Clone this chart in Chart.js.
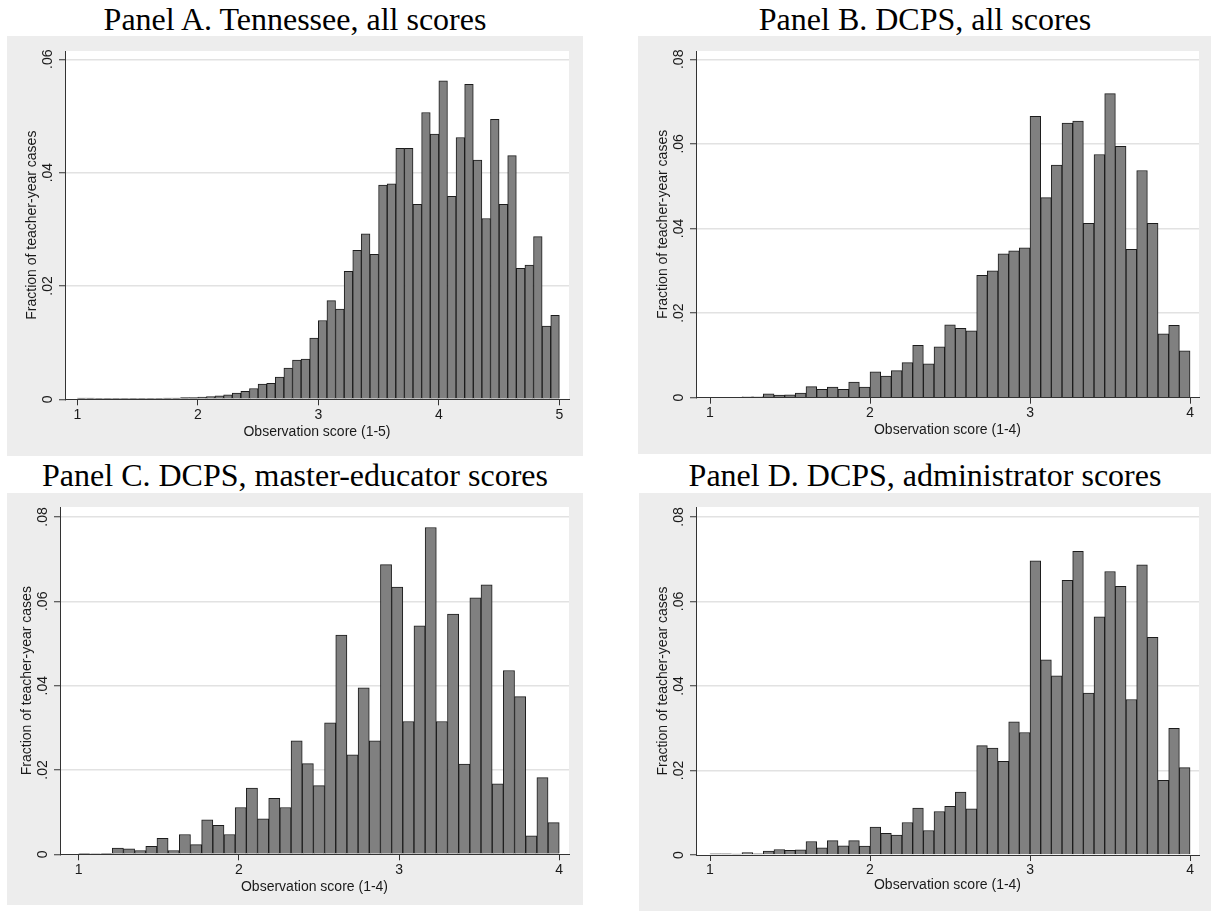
<!DOCTYPE html>
<html>
<head>
<meta charset="utf-8">
<script src="https://cdn.jsdelivr.net/npm/chart.js@4.4.1/dist/chart.umd.min.js"></script>
<style>
  body { margin: 0; background: #fff; width: 1211px; height: 911px; position: relative; overflow: hidden; }
  .ttl { position: absolute; font-family: "Liberation Serif", "Times New Roman", serif; font-size: 32px;
         line-height: 32px; color: #000; white-space: nowrap; transform: translateX(-50%); }
  canvas { position: absolute; background: #ededed; }
</style>
</head>
<body>
<div class="ttl" style="left:295px; top:3px;">Panel A. Tennessee, all scores</div>
<div class="ttl" style="left:925px; top:3px;">Panel B. DCPS, all scores</div>
<div class="ttl" style="left:295px; top:459px;">Panel C. DCPS, master-educator scores</div>
<div class="ttl" style="left:925px; top:459px;">Panel D. DCPS, administrator scores</div>

<canvas id="chartA" width="576" height="420" style="left:7px; top:36px;"></canvas>
<canvas id="chartB" width="573" height="418" style="left:638px; top:36px;"></canvas>
<canvas id="chartC" width="576" height="412" style="left:7px; top:493px;"></canvas>
<canvas id="chartD" width="572" height="418" style="left:639px; top:493px;"></canvas>

<script>
// histogram bins: first edge and bin width, per panel
const binStartA = 1, binWidthA = 4 / 56;
const binStartB = 1, binWidthB = 1 / 15;
const binStartC = 1, binWidthC = 3 / 43;
const binStartD = 1, binWidthD = 1 / 15;

// fraction of teacher-year cases in each bin
const fracA = [0.0002, 0.0002, 0.0001, 0.0001, 0.0001, 0.0001, 0.0001, 0.0001, 0.0001, 0.0001, 0.0002, 0.0002, 0.0003, 0.0003,
  0.0004, 0.0005, 0.0006, 0.0008, 0.0011, 0.0014, 0.0019, 0.0027, 0.0028, 0.0039,
  0.0055, 0.0069, 0.0071, 0.0108, 0.0139, 0.0174, 0.0159, 0.0226, 0.0263, 0.0292,
  0.0256, 0.0378, 0.0380, 0.0443, 0.0443, 0.0344, 0.0506, 0.0468, 0.0562, 0.0358,
  0.0462, 0.0556, 0.0422, 0.0319, 0.0494, 0.0344, 0.0430, 0.0231, 0.0237, 0.0287,
  0.0129, 0.0148];
const fracB = [0.0001, 0.0001, 0.0001, 0.0002, 0.0002, 0.0009, 0.0006, 0.0007, 0.0011, 0.0026, 0.0020, 0.0025, 0.0020, 0.0037, 0.0025,
  0.0061, 0.0051, 0.0064, 0.0083, 0.0124, 0.0080, 0.0120, 0.0172, 0.0164, 0.0158, 0.0289, 0.0300, 0.0340, 0.0347, 0.0354,
  0.0665, 0.0473, 0.0550, 0.0649, 0.0654, 0.0412, 0.0575, 0.0719, 0.0594, 0.0351, 0.0537, 0.0412, 0.0151, 0.0171, 0.0111];
const fracC = [0.0001, 0.0002, 0.0001, 0.0015, 0.0013, 0.0009, 0.0019, 0.0038, 0.0009, 0.0047, 0.0023, 0.0082, 0.0069, 0.0047,
  0.0111, 0.0157, 0.0084, 0.0133, 0.0111, 0.0269, 0.0215, 0.0163, 0.0312, 0.0520, 0.0236, 0.0395, 0.0269, 0.0687,
  0.0634, 0.0315, 0.0542, 0.0775, 0.0315, 0.0570, 0.0214, 0.0608, 0.0639, 0.0167, 0.0436, 0.0374, 0.0044, 0.0182, 0.0075];
const fracD = [0.0003, 0.0003, 0.0002, 0.0006, 0.0003, 0.0009, 0.0013, 0.0011, 0.0012, 0.0032, 0.0017, 0.0034, 0.0022, 0.0034, 0.0021,
  0.0066, 0.0051, 0.0047, 0.0077, 0.0111, 0.0058, 0.0103, 0.0115, 0.0149, 0.0109, 0.0259, 0.0253, 0.0222, 0.0315, 0.0290,
  0.0696, 0.0462, 0.0424, 0.0650, 0.0719, 0.0383, 0.0564, 0.0671, 0.0636, 0.0368, 0.0687, 0.0515, 0.0177, 0.0300, 0.0207];

// tick values and labels
const xTicks5 = [1, 2, 3, 4, 5];
const xLabels5 = ['1', '2', '3', '4', '5'];
const xTicks4 = [1, 2, 3, 4];
const xLabels4 = ['1', '2', '3', '4'];
const yTicks06 = [0, 0.02, 0.04, 0.06];
const yLabels06 = ['0', '.02', '.04', '.06'];
const yTicks08 = [0, 0.02, 0.04, 0.06, 0.08];
const yLabels08 = ['0', '.02', '.04', '.06', '.08'];

const yTitle = 'Fraction of teacher-year cases';
const xTitle5 = 'Observation score (1-5)';
const xTitle4 = 'Observation score (1-4)';

const SANS = '"Liberation Sans", Arial, sans-serif';
const INK = '#1a1a1a';

// white plot region
const plotRegion = {
  id: 'plotRegion',
  beforeDraw(chart) {
    const a = chart.chartArea, c = chart.ctx;
    c.save();
    c.fillStyle = '#ffffff';
    c.fillRect(a.left, a.top, a.right - a.left, a.bottom - a.top);
    c.restore();
  }
};

// Stata-style vertical y tick labels
const verticalYLabels = {
  id: 'verticalYLabels',
  afterDraw(chart, args, opts) {
    const s = chart.scales.y, c = chart.ctx;
    c.save();
    c.font = '14px ' + SANS;
    c.fillStyle = INK;
    c.textAlign = 'center';
    c.textBaseline = 'middle';
    opts.values.forEach((v, i) => {
      c.save();
      c.translate(s.right - opts.gap, s.getPixelForValue(v));
      c.rotate(-Math.PI / 2);
      c.fillText(opts.labels[i], 0, 0);
      c.restore();
    });
    c.restore();
  }
};

function histogram(id, frac, start, width, cfg) {
  const points = frac.map((v, i) => ({ x: start + (i + 0.5) * width, y: v }));
  return new Chart(document.getElementById(id), {
    type: 'bar',
    data: {
      datasets: [{
        data: points,
        backgroundColor: '#808080',
        borderColor: '#1c1c1c',
        borderWidth: 1,
        barPercentage: 1,
        categoryPercentage: 1
      }]
    },
    options: {
      responsive: false,
      animation: false,
      layout: { padding: { top: cfg.padTop, right: cfg.padRight, left: 0, bottom: 0 } },
      plugins: {
        legend: { display: false },
        tooltip: { enabled: false },
        verticalYLabels: { values: cfg.yTicks, labels: cfg.yLabels, gap: 17 }
      },
      scales: {
        x: {
          type: 'linear',
          offset: false,
          min: cfg.xMin,
          max: cfg.xMax,
          afterBuildTicks: s => { s.ticks = cfg.xTicks.map(v => ({ value: v })); },
          afterFit: s => { s.height = cfg.xAxisH; },
          grid: { offset: false, drawOnChartArea: false, tickLength: 6, tickColor: '#333', lineWidth: 1 },
          border: { display: true, color: '#333', width: 1, z: 1 },
          ticks: {
            autoSkip: false, maxRotation: 0, padding: 1, color: INK,
            font: { family: SANS, size: 14 },
            callback: (v, i) => cfg.xLabels[i]
          },
          title: {
            display: true, text: cfg.xTitle, color: INK,
            font: { family: SANS, size: 14 },
            padding: { top: 0, bottom: cfg.xTitlePad }
          }
        },
        y: {
          min: 0,
          max: cfg.yMax,
          afterBuildTicks: s => { s.ticks = cfg.yTicks.map(v => ({ value: v })); },
          afterFit: s => { s.width = cfg.yAxisW; },
          grid: {
            color: c => (c.tick && c.tick.value === 0) ? 'rgba(0,0,0,0)' : '#e2e2e2',
            lineWidth: 1.5, tickLength: 6, tickColor: '#333', tickWidth: 1
          },
          border: { display: true, color: '#333', width: 1, z: 1 },
          ticks: { display: false },
          title: {
            display: true, text: yTitle, color: INK,
            font: { family: SANS, size: 14 },
            padding: { top: cfg.yTitlePad, bottom: 0 }
          }
        }
      }
    },
    plugins: [plotRegion, verticalYLabels]
  });
}

histogram('chartA', fracA, binStartA, binWidthA, {
  xMin: 0.898, xMax: 5.08, yMax: 0.06146,
  xTicks: xTicks5, xLabels: xLabels5, yTicks: yTicks06, yLabels: yLabels06, xTitle: xTitle5,
  padTop: 15, padRight: 14, yAxisW: 58, xAxisH: 56.7, xTitlePad: 15.6, yTitlePad: 16.6
});
histogram('chartB', fracB, binStartB, binWidthB, {
  xMin: 0.9125, xMax: 4.056, yMax: 0.08196,
  xTicks: xTicks4, xLabels: xLabels4, yTicks: yTicks08, yLabels: yLabels08, xTitle: xTitle4,
  padTop: 15, padRight: 12, yAxisW: 58, xAxisH: 56.3, xTitlePad: 15.6, yTitlePad: 16.6
});
histogram('chartC', fracC, binStartC, binWidthC, {
  xMin: 0.883, xMax: 4.061, yMax: 0.08237,
  xTicks: xTicks4, xLabels: xLabels4, yTicks: yTicks08, yLabels: yLabels08, xTitle: xTitle4,
  padTop: 14, padRight: 14, yAxisW: 53, xAxisH: 50.7, xTitlePad: 9.3, yTitlePad: 11.6
});
histogram('chartD', fracD, binStartD, binWidthD, {
  xMin: 0.9125, xMax: 4.056, yMax: 0.08237,
  xTicks: xTicks4, xLabels: xLabels4, yTicks: yTicks08, yLabels: yLabels08, xTitle: xTitle4,
  padTop: 14, padRight: 12, yAxisW: 57, xAxisH: 56, xTitlePad: 17.6, yTitlePad: 15.6
});
</script>
</body>
</html>
